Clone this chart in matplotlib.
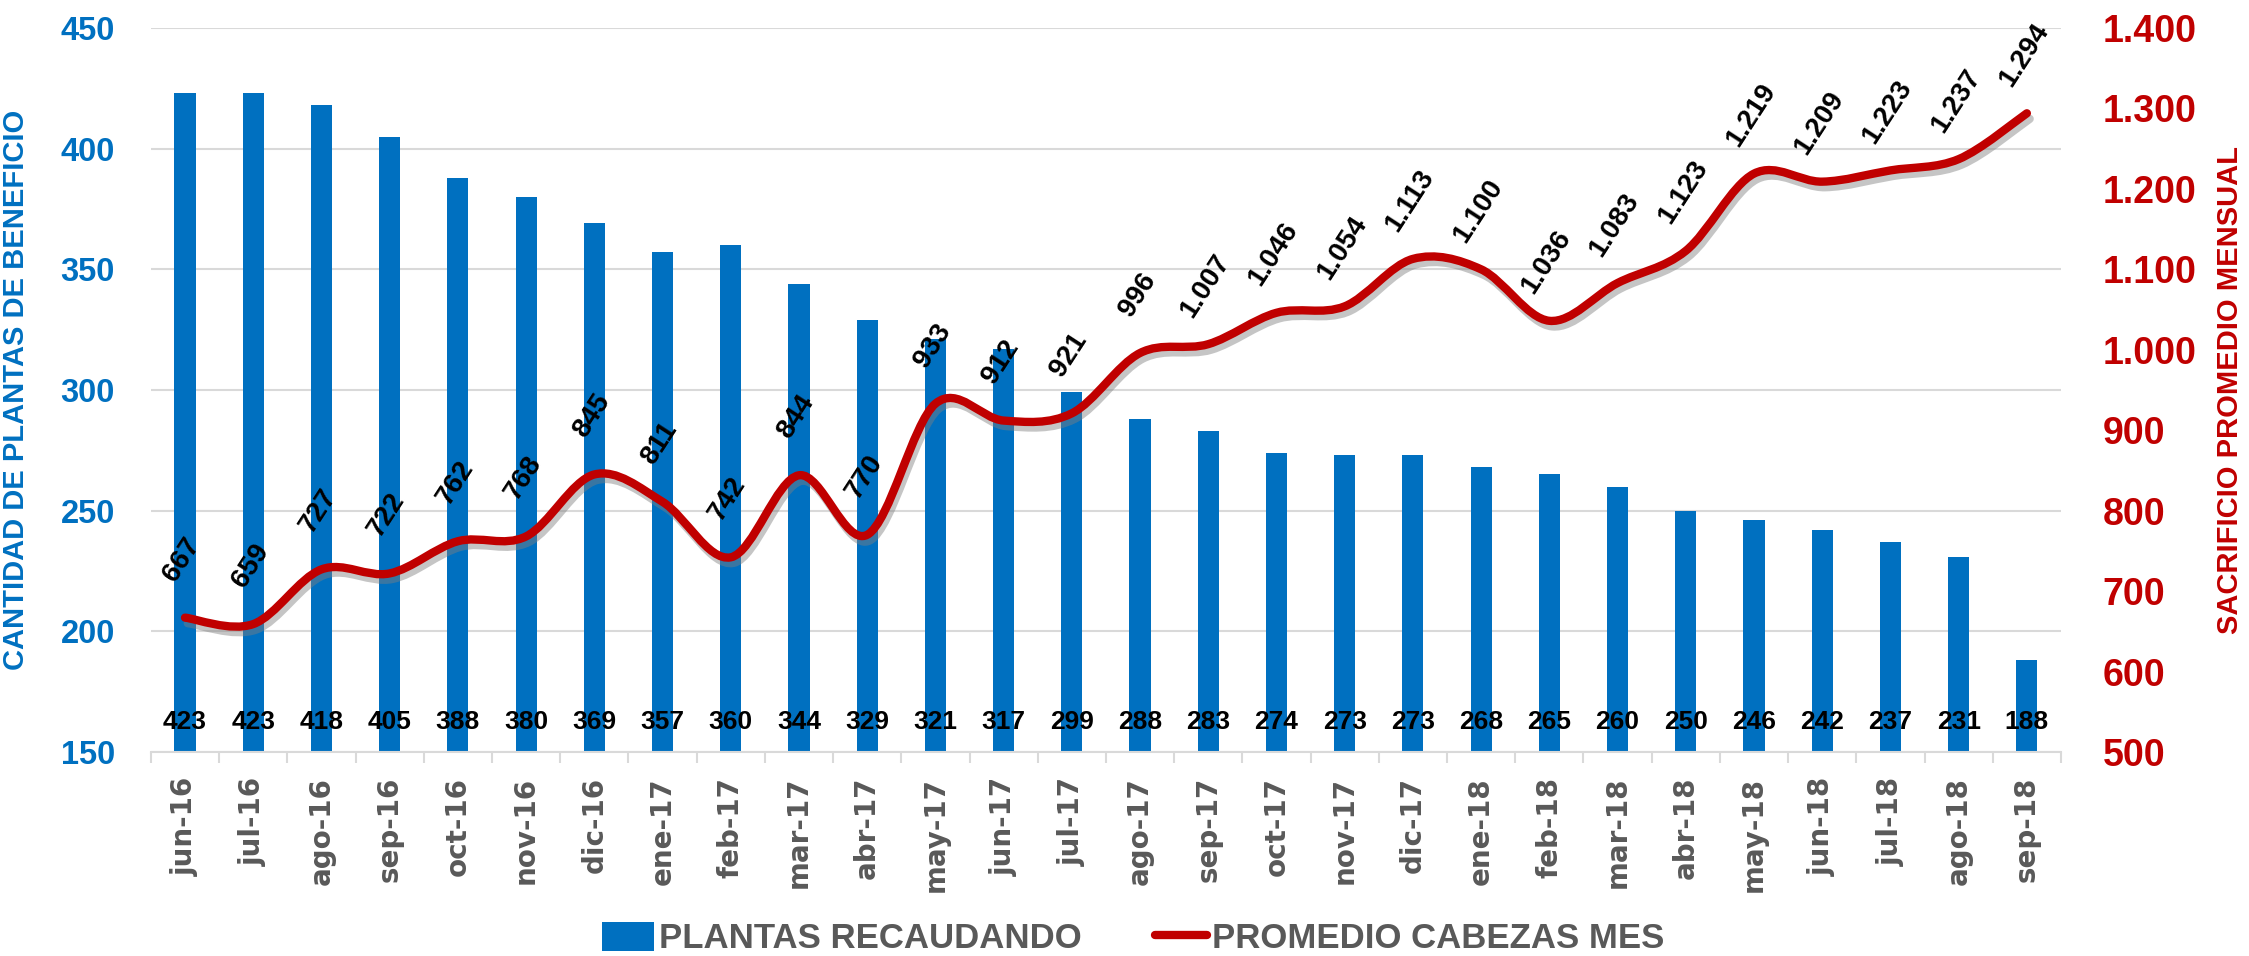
import matplotlib
matplotlib.use("Agg")
import matplotlib.pyplot as plt
import matplotlib.patheffects as pe
from matplotlib import font_manager
from matplotlib.path import Path
from matplotlib.patches import PathPatch, Patch
from matplotlib.lines import Line2D
from matplotlib.ticker import FixedLocator, FuncFormatter
import matplotlib.transforms as mtransforms


months = ["jun-16", "jul-16", "ago-16", "sep-16", "oct-16", "nov-16", "dic-16",
          "ene-17", "feb-17", "mar-17", "abr-17", "may-17", "jun-17", "jul-17",
          "ago-17", "sep-17", "oct-17", "nov-17", "dic-17", "ene-18", "feb-18",
          "mar-18", "abr-18", "may-18", "jun-18", "jul-18", "ago-18", "sep-18"]
plantas = [423, 423, 418, 405, 388, 380, 369, 357, 360, 344, 329, 321, 317, 299,
           288, 283, 274, 273, 273, 268, 265, 260, 250, 246, 242, 237, 231, 188]
cabezas = [667, 659, 727, 722, 762, 768, 845, 811, 742, 844, 770, 933, 912, 921,
           996, 1007, 1046, 1054, 1113, 1100, 1036, 1083, 1123, 1219, 1209, 1223,
           1237, 1294]
left_ticks = [150, 200, 250, 300, 350, 400, 450]
right_ticks = [500, 600, 700, 800, 900, 1000, 1100, 1200, 1300, 1400]

BLUE = "#0070C0"
RED = "#C00000"
GRAY = "#595959"
GRID = "#D9D9D9"

names = {f.name for f in font_manager.fontManager.ttflist}
if "Liberation Sans Narrow" in names:
    TITLE_FONT, TITLE_SIZE = "Liberation Sans Narrow", 26
else:
    TITLE_FONT, TITLE_SIZE = "Liberation Sans", 21
MAIN_FONT = "Liberation Sans"


def miles(v, pos=None):
    return f"{int(v):,}".replace(",", ".")


def smooth_path(xs, ys):
    # bezier through every point, like the spreadsheet "smoothed line"
    pts = list(zip(xs, ys))
    verts = [pts[0]]
    codes = [Path.MOVETO]
    n = len(pts)
    for i in range(n - 1):
        p0 = pts[max(i - 1, 0)]
        p1 = pts[i]
        p2 = pts[i + 1]
        p3 = pts[min(i + 2, n - 1)]
        c1 = (p1[0] + (p2[0] - p0[0]) / 6, p1[1] + (p2[1] - p0[1]) / 6)
        c2 = (p2[0] - (p3[0] - p1[0]) / 6, p2[1] - (p3[1] - p1[1]) / 6)
        verts += [c1, c2, p2]
        codes += [Path.CURVE4] * 3
    return Path(verts, codes)


fig = plt.figure(figsize=(22.49, 9.56), dpi=100)
ax = fig.add_axes([0.0671, 0.2134, 0.8493, 0.7573])
ax2 = ax.twinx()

x = list(range(len(months)))
ax.bar(x, plantas, width=0.31, color=BLUE, zorder=2)
ax.set_xlim(-0.5, len(months) - 0.5)
ax.set_ylim(150, 450)
ax.yaxis.set_major_locator(FixedLocator(left_ticks))
ax.set_axisbelow(True)
ax.grid(axis="y", color=GRID, linewidth=1.5)
ax.grid(axis="x", visible=False)

for s in ["top", "left", "right"]:
    ax.spines[s].set_visible(False)
    ax2.spines[s].set_visible(False)
ax.spines["bottom"].set_color(GRID)
ax.spines["bottom"].set_linewidth(1.5)
ax2.spines["bottom"].set_visible(False)

ax.set_xticks(x)
ax.set_xticklabels(months, rotation=90, fontsize=20, fontweight="bold",
                   color=GRAY, family="DejaVu Sans")
ax.tick_params(axis="x", which="major", length=0, pad=18)
ax.xaxis.set_minor_locator(FixedLocator([i - 0.5 for i in range(len(months) + 1)]))
ax.tick_params(axis="x", which="minor", length=8, width=1.5, color=GRID)

ax.tick_params(axis="y", length=0, pad=26, labelsize=23.5, labelcolor=BLUE)
for t in ax.get_yticklabels():
    t.set_fontweight("bold")
    t.set_family(MAIN_FONT)

ax.set_ylabel("CANTIDAD DE PLANTAS DE BENEFICIO", color=BLUE, fontsize=TITLE_SIZE,
              fontweight="bold", family=TITLE_FONT)
ax.yaxis.set_label_coords(-0.0634, 0.5)

# bar values near the base
trans = mtransforms.blended_transform_factory(ax.transData, ax.transAxes)
for xi, v in zip(x, plantas):
    ax.text(xi, 0.041, str(v), transform=trans, ha="center", va="center",
            fontsize=19, fontweight="bold", family=MAIN_FONT, color="black", zorder=5)

# right axis line
ax2.set_ylim(500, 1400)
ax2.yaxis.set_major_locator(FixedLocator(right_ticks))
ax2.yaxis.set_major_formatter(FuncFormatter(miles))
ax2.tick_params(axis="y", length=0, pad=30, labelsize=27, labelcolor=RED)
for t in ax2.get_yticklabels():
    t.set_fontweight("bold")
    t.set_family(MAIN_FONT)
ax2.set_ylabel("SACRIFICIO PROMEDIO MENSUAL", color=RED, fontsize=TITLE_SIZE,
               fontweight="bold", family=TITLE_FONT)
ax2.yaxis.set_label_coords(1.081, 0.5)

patch = PathPatch(smooth_path(x, cabezas), transform=ax2.transData, fill=False,
                  edgecolor=RED, linewidth=6, capstyle="round", joinstyle="round",
                  zorder=3)
patch.set_path_effects([pe.SimpleLineShadow(offset=(2, -4), shadow_color="#7f7f7f",
                                            alpha=0.45), pe.Normal()])
ax2.add_patch(patch)

for xi, v in zip(x, cabezas):
    ax2.annotate(miles(v), (xi, v), xytext=(-2, 42), textcoords="offset points",
                 ha="center", va="center", rotation=57, fontsize=20,
                 fontweight="bold", family=MAIN_FONT, color="black", zorder=6)

handles = [Patch(facecolor=BLUE, edgecolor="none"),
           Line2D([0], [0], color=RED, linewidth=6, solid_capstyle="round")]
leg = fig.legend(handles, ["PLANTAS RECAUDANDO", "PROMEDIO CABEZAS MES"],
                 loc="center", bbox_to_anchor=(0.504, 0.018), ncol=2, frameon=False,
                 handlelength=1.5, handleheight=0.9, handletextpad=0.15,
                 columnspacing=2.1,
                 prop={"family": MAIN_FONT, "weight": "bold", "size": 25})
for t in leg.get_texts():
    t.set_color(GRAY)

fig.savefig("out.png", dpi=100)
